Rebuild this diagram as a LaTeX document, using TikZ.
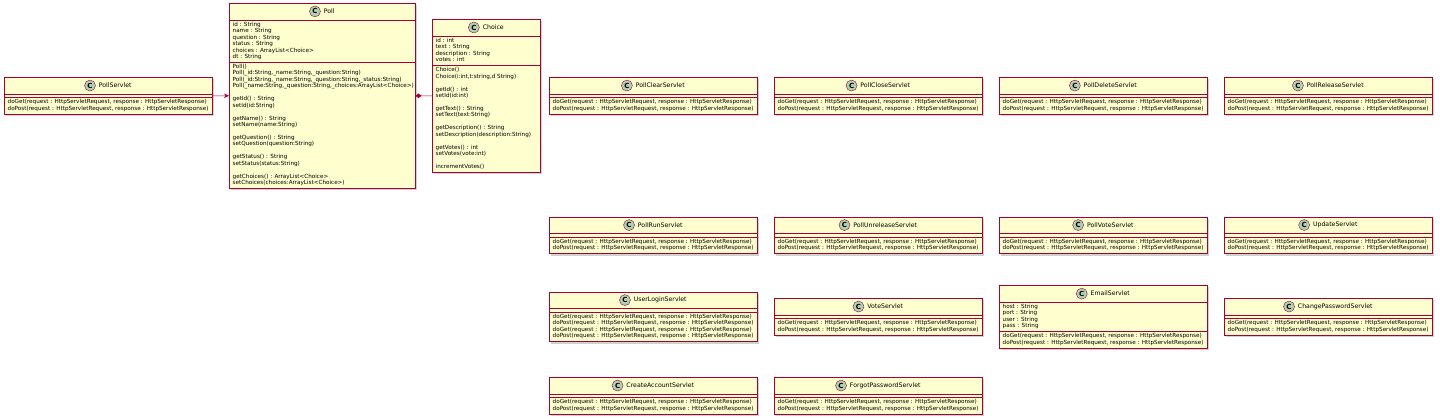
\documentclass[tikz,border=0pt]{standalone}
\usepackage{fontspec}
\setmainfont{DejaVu Sans}
\usetikzlibrary{positioning,arrows.meta,shadows}
\definecolor{umlred}{HTML}{A80036}
\definecolor{umlfill}{HTML}{FEFECE}
\definecolor{umlbadge}{HTML}{ADD1B2}
\begin{document}
\begin{tikzpicture}[x=1pt, y=-1pt,
    cls/.style={rectangle, draw=umlred, fill=umlfill, line width=.5pt, inner sep=0pt, anchor=north west,
      drop shadow={shadow xshift=2pt, shadow yshift=-2pt, fill=black!40, opacity=.45}},
    sep/.style={draw=umlred, line width=.5pt},
    clsname/.style={inner sep=0pt, font=\fontsize{6.2}{7}\selectfont},
    badge/.style={circle, draw=umlred, fill=umlbadge, line width=.4pt, minimum size=11pt, inner sep=0pt,
      font=\fontsize{7}{7}\selectfont\bfseries},
    member/.style={anchor=west, inner sep=0pt, text height=4pt, text depth=1.2pt,
      font=\fontsize{5.65}{6.45}\selectfont},
    link/.style={draw=umlred, line width=.5pt}]
  \useasboundingbox (0,0) rectangle (1440,420);

  \foreach \nm/\bx/\by in {PollServlet/4/77.05, PollClearServlet/549/77.05, PollCloseServlet/774/77.05,
      PollDeleteServlet/999/77.05, PollReleaseServlet/1224/77.05,
      PollRunServlet/549/216.55, PollUnreleaseServlet/774/216.55, PollVoteServlet/999/216.55,
      UpdateServlet/1224/216.55, VoteServlet/774/298.05, ChangePasswordServlet/1224/298.05,
      CreateAccountServlet/549/377.05, ForgotPasswordServlet/774/377.05} {
    \node[cls, minimum width=208pt, minimum height=36.9pt] (\nm) at (\bx,\by) {};
    \node[clsname] (\nm-name) at ([xshift=7pt, yshift=-8.5pt]\nm.north) {\nm};
    \node[badge, left=3pt of \nm-name] (\nm-c) {C};
    \draw[sep] ([yshift=-17pt]\nm.north west) -- ([yshift=-17pt]\nm.north east);
    \draw[sep] ([yshift=-20.5pt]\nm.north west) -- ([yshift=-20.5pt]\nm.north east);
    \node[member] (\nm-get) at ([xshift=3.5pt, yshift=-25.475pt]\nm.north west)
      {doGet(request : HttpServletRequest, response : HttpServletResponse)};
    \node[member] (\nm-post) at ([xshift=3.5pt, yshift=-31.925pt]\nm.north west)
      {doPost(request : HttpServletRequest, response : HttpServletResponse)};
  }

  \node[cls, minimum width=208pt, minimum height=49.8pt] (UserLoginServlet) at (549,291.6) {};
  \node[clsname] (UserLoginServlet-name) at ([xshift=7pt, yshift=-8.5pt]UserLoginServlet.north) {UserLoginServlet};
  \node[badge, left=3pt of UserLoginServlet-name] (UserLoginServlet-c) {C};
  \draw[sep] ([yshift=-17pt]UserLoginServlet.north west) -- ([yshift=-17pt]UserLoginServlet.north east);
  \draw[sep] ([yshift=-20.5pt]UserLoginServlet.north west) -- ([yshift=-20.5pt]UserLoginServlet.north east);
  \foreach \i/\t in {0/doGet, 1/doPost, 2/doGet, 3/doPost}
    \node[member] (UserLoginServlet-m\i) at ([xshift=3.5pt, yshift=-25.475-\i*6.45]UserLoginServlet.north west)
      {\t(request : HttpServletRequest, response : HttpServletResponse)};

  \node[cls, minimum width=208pt, minimum height=62.7pt] (EmailServlet) at (999,285.15) {};
  \node[clsname] (EmailServlet-name) at ([xshift=7pt, yshift=-8.5pt]EmailServlet.north) {EmailServlet};
  \node[badge, left=3pt of EmailServlet-name] (EmailServlet-c) {C};
  \draw[sep] ([yshift=-17pt]EmailServlet.north west) -- ([yshift=-17pt]EmailServlet.north east);
  \draw[sep] ([yshift=-46.3pt]EmailServlet.north west) -- ([yshift=-46.3pt]EmailServlet.north east);
  \foreach \i/\t in {0/host, 1/port, 2/user, 3/pass}
    \node[member] (EmailServlet-a\i) at ([xshift=3.5pt, yshift=-21.975-\i*6.45]EmailServlet.north west) {\t{} : String};
  \foreach \i/\t in {0/doGet, 1/doPost}
    \node[member] (EmailServlet-m\i) at ([xshift=3.5pt, yshift=-51.275-\i*6.45]EmailServlet.north west)
      {\t(request : HttpServletRequest, response : HttpServletResponse)};

  \node[cls, minimum width=186pt, minimum height=185.25pt] (Poll) at (229,2.9) {};
  \node[clsname] (Poll-name) at ([xshift=7pt, yshift=-8.5pt]Poll.north) {Poll};
  \node[badge, left=3pt of Poll-name] (Poll-c) {C};
  \draw[sep] ([yshift=-17pt]Poll.north west) -- ([yshift=-17pt]Poll.north east);
  \draw[sep] ([yshift=-59.2pt]Poll.north west) -- ([yshift=-59.2pt]Poll.north east);
  \foreach \i/\t in {0/{id : String}, 1/{name : String}, 2/{question : String}, 3/{status : String},
      4/{choices : ArrayList<Choice>}, 5/{dt : String}}
    \node[member] (Poll-a\i) at ([xshift=3.5pt, yshift=-21.975-\i*6.45]Poll.north west) {\t};
  \foreach \i/\t in {0/{Poll()}, 1/{Poll(\_id:String,\_name:String,\_question:String)},
      2/{Poll(\_id:String,\_name:String,\_question:String,\_status:String)},
      3/{Poll(\_name:String,\_question:String,\_choices:ArrayList<Choice>)},
      5/{getId() : String}, 6/{setId(id:String)}, 8/{getName() : String}, 9/{setName(name:String)},
      11/{getQuestion() : String}, 12/{setQuestion(question:String)},
      14/{getStatus() : String}, 15/{setStatus(status:String)},
      17/{getChoices() : ArrayList<Choice>}, 18/{setChoices(choices:ArrayList<Choice>)}}
    \node[member] (Poll-m\i) at ([xshift=3.5pt, yshift=-64.175-\i*6.45]Poll.north west) {\t};

  \node[cls, minimum width=108pt, minimum height=153pt] (Choice) at (432,19) {};
  \node[clsname] (Choice-name) at ([xshift=7pt, yshift=-8.5pt]Choice.north) {Choice};
  \node[badge, left=3pt of Choice-name] (Choice-c) {C};
  \draw[sep] ([yshift=-17pt]Choice.north west) -- ([yshift=-17pt]Choice.north east);
  \draw[sep] ([yshift=-46.3pt]Choice.north west) -- ([yshift=-46.3pt]Choice.north east);
  \foreach \i/\t in {0/{id : int}, 1/{text : String}, 2/{description : String}, 3/{votes : int}}
    \node[member] (Choice-a\i) at ([xshift=3.5pt, yshift=-21.975-\i*6.45]Choice.north west) {\t};
  \foreach \i/\t in {0/{Choice()}, 1/{Choice(i:int,t:string,d String)},
      3/{getId() : int}, 4/{setId(id:int)}, 6/{getText() : String}, 7/{setText(text:String)},
      9/{getDescription() : String}, 10/{setDescription(description:String)},
      12/{getVotes() : int}, 13/{setVotes(vote:int)}, 15/{incrementVotes()}}
    \node[member] (Choice-m\i) at ([xshift=3.5pt, yshift=-51.275-\i*6.45]Choice.north west) {\t};

  \draw[link, -{Stealth[length=5pt, width=4.5pt]}] (PollServlet.east) -- (Poll.west);
  \draw[link, {Diamond[length=6pt, width=4.5pt]}-] (Poll.east) -- (Choice.west);
\end{tikzpicture}
\end{document}
